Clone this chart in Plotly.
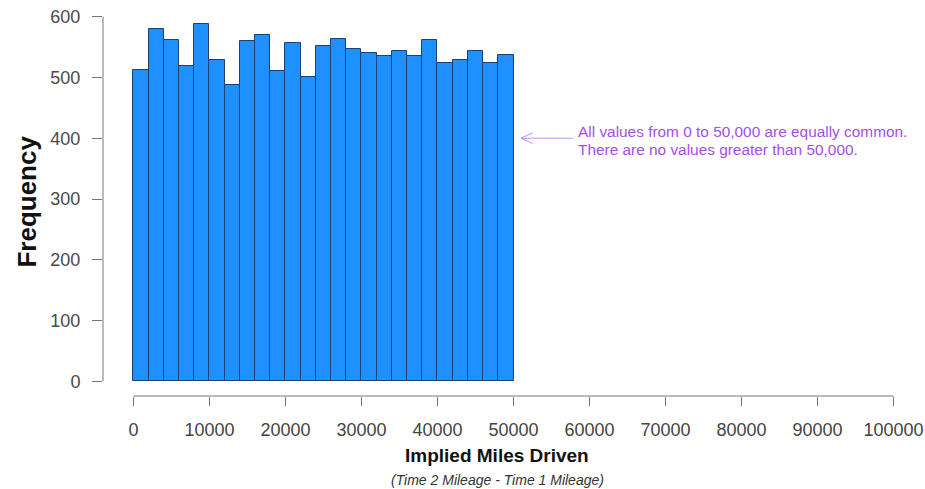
import plotly.graph_objects as go

# Histogram data: bins of width 2000 from 0 to 50000
bin_starts = list(range(0, 50000, 2000))
bin_width = 2000
counts = [512, 579, 561, 518, 588, 529, 487, 560, 570, 510,
          556, 501, 552, 563, 546, 540, 535, 544, 535, 561,
          523, 529, 543, 523, 537]

x_ticks = list(range(0, 100001, 10000))
y_ticks = [0, 100, 200, 300, 400, 500, 600]

note_lines = ["All values from 0 to 50,000 are equally common.",
              "There are no values greater than 50,000."]

FONT = "Liberation Sans, Arial, sans-serif"
AX = "#777777"
VIOLET = "#a64ee6"
ARROW = "#c58df0"

centers = [s + bin_width / 2 for s in bin_starts]

fig = go.Figure()
fig.add_trace(go.Bar(
    x=centers, y=counts, width=[bin_width] * len(counts),
    marker=dict(color="#1E90FF", line=dict(color="#1f3f6f", width=1)),
    showlegend=False, hoverinfo="skip"))

fig.update_layout(
    width=925, height=489,
    margin=dict(l=103, r=1, t=2, b=93),
    paper_bgcolor="white", plot_bgcolor="white",
    bargap=0,
    font=dict(family=FONT, color="#444444", size=18),
    xaxis=dict(range=[-4000, 104000], tickvals=x_ticks,
               ticktext=[str(v) for v in x_ticks],
               showgrid=False, zeroline=False, showline=False,
               ticks="outside", ticklen=9, tickcolor=AX, tickwidth=1,
               tickfont=dict(size=18, color="#444444"),
               ticklabelstandoff=8),
    yaxis=dict(range=[-24, 624], tickvals=y_ticks,
               showgrid=False, zeroline=False, showline=False,
               ticks="outside", ticklen=10, tickcolor=AX, tickwidth=1,
               tickfont=dict(size=18, color="#4a4a4a"),
               ticklabelstandoff=8),
)

# R-style detached axis lines spanning first to last tick
fig.add_shape(type="line", xref="paper", yref="y", x0=0, x1=0,
              y0=y_ticks[0], y1=y_ticks[-1], line=dict(color=AX, width=1))
fig.add_shape(type="line", xref="x", yref="paper", y0=0, y1=0,
              x0=x_ticks[0], x1=x_ticks[-1], line=dict(color=AX, width=1))

# Axis titles
fig.add_annotation(text="<b>Frequency</b>", xref="paper", yref="paper",
                   x=-0.093, y=0.4926, textangle=-90, showarrow=False,
                   xanchor="center", yanchor="middle",
                   font=dict(size=26, color="#111111", family=FONT))
fig.add_annotation(text="<b>Implied Miles Driven</b>", xref="paper", yref="paper",
                   x=0.48, y=-0.151, showarrow=False,
                   xanchor="center", yanchor="middle",
                   font=dict(size=19, color="#111111", family=FONT))
fig.add_annotation(text="<i>(Time 2 Mileage - Time 1 Mileage)</i>",
                   xref="paper", yref="paper",
                   x=0.48, y=-0.2144, showarrow=False,
                   xanchor="center", yanchor="middle",
                   font=dict(size=14, color="#333333", family=FONT))

# Arrow pointing at the end of the distribution
tip_x, tip_y = 51000, 400
fig.add_annotation(x=tip_x, y=tip_y, ax=58000, ay=tip_y, axref="x", ayref="y",
                   text="", showarrow=True, arrowhead=0, arrowwidth=1,
                   arrowcolor=ARROW)
for dy in (-6, 6):
    fig.add_annotation(x=tip_x, y=tip_y, ax=13, ay=dy,
                       text="", showarrow=True, arrowhead=0, arrowwidth=1,
                       arrowcolor=ARROW)

fig.add_annotation(x=58200, y=411.5, text=note_lines[0], showarrow=False,
                   xanchor="left", yanchor="middle",
                   font=dict(size=15.4, color=VIOLET, family=FONT))
fig.add_annotation(x=58200, y=382, text=note_lines[1], showarrow=False,
                   xanchor="left", yanchor="middle",
                   font=dict(size=15.4, color=VIOLET, family=FONT))

fig.write_html(
    "out.html",
    config={"displayModeBar": False},
    post_script="document.body.style.margin='0';document.body.style.padding='0';"
)
